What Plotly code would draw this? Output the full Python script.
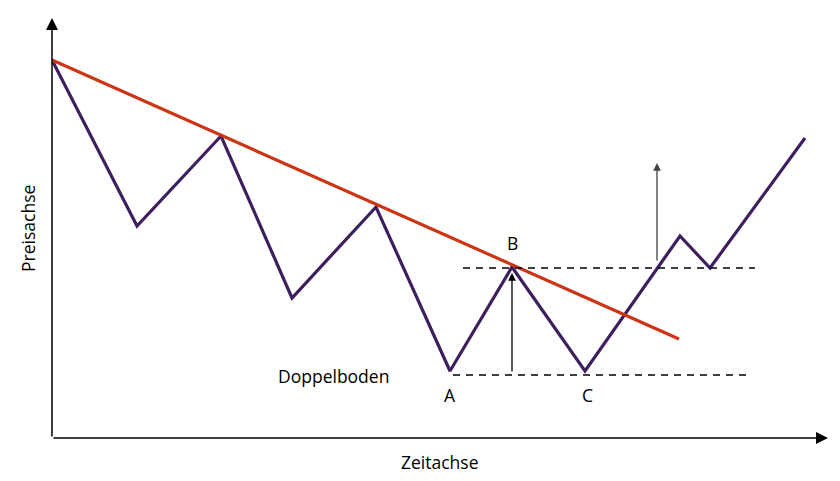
import plotly.graph_objects as go

# Data (time units, price units)
zig_t = [0, 85, 169, 240, 324, 398, 460, 533, 628, 658, 753]
zig_p = [378, 212, 302, 140, 231, 67, 171, 67, 202, 170, 300]

trend_t = [0, 627]
trend_p = [378, 99]

resist_t = [411, 703]
resist_p = [170, 170]
support_t = [401, 694]
support_p = [63, 63]

arrow1 = dict(t=460, p0=65, p1=165)
arrow2 = dict(t=605, p0=176, p1=275)

labels = [
    ("B", 460, 195),
    ("A", 398, 43),
    ("C", 535, 43),
    ("Doppelboden", 281, 62),
]

X_MAX = 776
Y_MAX = 420

FONT = dict(family="Open Sans", size=17.5, color="black")

fig = go.Figure()

fig.add_trace(go.Scatter(x=zig_t, y=zig_p, mode="lines",
                         line=dict(color="#3d1f5e", width=3.2), hoverinfo="skip"))
fig.add_trace(go.Scatter(x=trend_t, y=trend_p, mode="lines",
                         line=dict(color="#cc3414", width=3.2), hoverinfo="skip"))
fig.add_trace(go.Scatter(x=resist_t, y=resist_p, mode="lines",
                         line=dict(color="black", width=1.5, dash="7px,6px"), hoverinfo="skip"))
fig.add_trace(go.Scatter(x=support_t, y=support_p, mode="lines",
                         line=dict(color="black", width=1.5, dash="7px,6px"), hoverinfo="skip"))

ann = []
# axes arrows
ann.append(dict(x=X_MAX, y=0, ax=0, ay=0, xref="x", yref="y", axref="x", ayref="y",
                showarrow=True, arrowhead=2, arrowsize=1.6, arrowwidth=1.5, arrowcolor="black", text=""))
ann.append(dict(x=0, y=Y_MAX, ax=0, ay=0, xref="x", yref="y", axref="x", ayref="y",
                showarrow=True, arrowhead=2, arrowsize=1.6, arrowwidth=1.5, arrowcolor="black", text=""))
# vertical arrows
ann.append(dict(x=arrow1["t"], y=arrow1["p1"], ax=arrow1["t"], ay=arrow1["p0"], xref="x", yref="y",
                axref="x", ayref="y", showarrow=True, arrowhead=2, arrowsize=1.2, arrowwidth=1.3,
                arrowcolor="black", text=""))
ann.append(dict(x=arrow2["t"], y=arrow2["p1"], ax=arrow2["t"], ay=arrow2["p0"], xref="x", yref="y",
                axref="x", ayref="y", showarrow=True, arrowhead=2, arrowsize=1.2, arrowwidth=1.3,
                arrowcolor="#444444", text=""))
for txt, t, p in labels:
    ann.append(dict(x=t, y=p, xref="x", yref="y", text=txt, showarrow=False, font=FONT))
ann.append(dict(x=0.5, y=-0.025, xref="paper", yref="paper", text="Zeitachse", showarrow=False,
                yanchor="top", font=FONT))
ann.append(dict(x=-0.013, y=0.5, xref="paper", yref="paper", text="Preisachse", showarrow=False,
                textangle=-90, xanchor="right", font=FONT))

fig.update_layout(
    width=832, height=473,
    margin=dict(l=44, r=12, t=10, b=43),
    paper_bgcolor="white", plot_bgcolor="white",
    showlegend=False,
    xaxis=dict(range=[0, X_MAX], visible=False, fixedrange=True),
    yaxis=dict(range=[0, Y_MAX], visible=False, fixedrange=True),
    annotations=ann,
)

fig.write_html("out.html")
